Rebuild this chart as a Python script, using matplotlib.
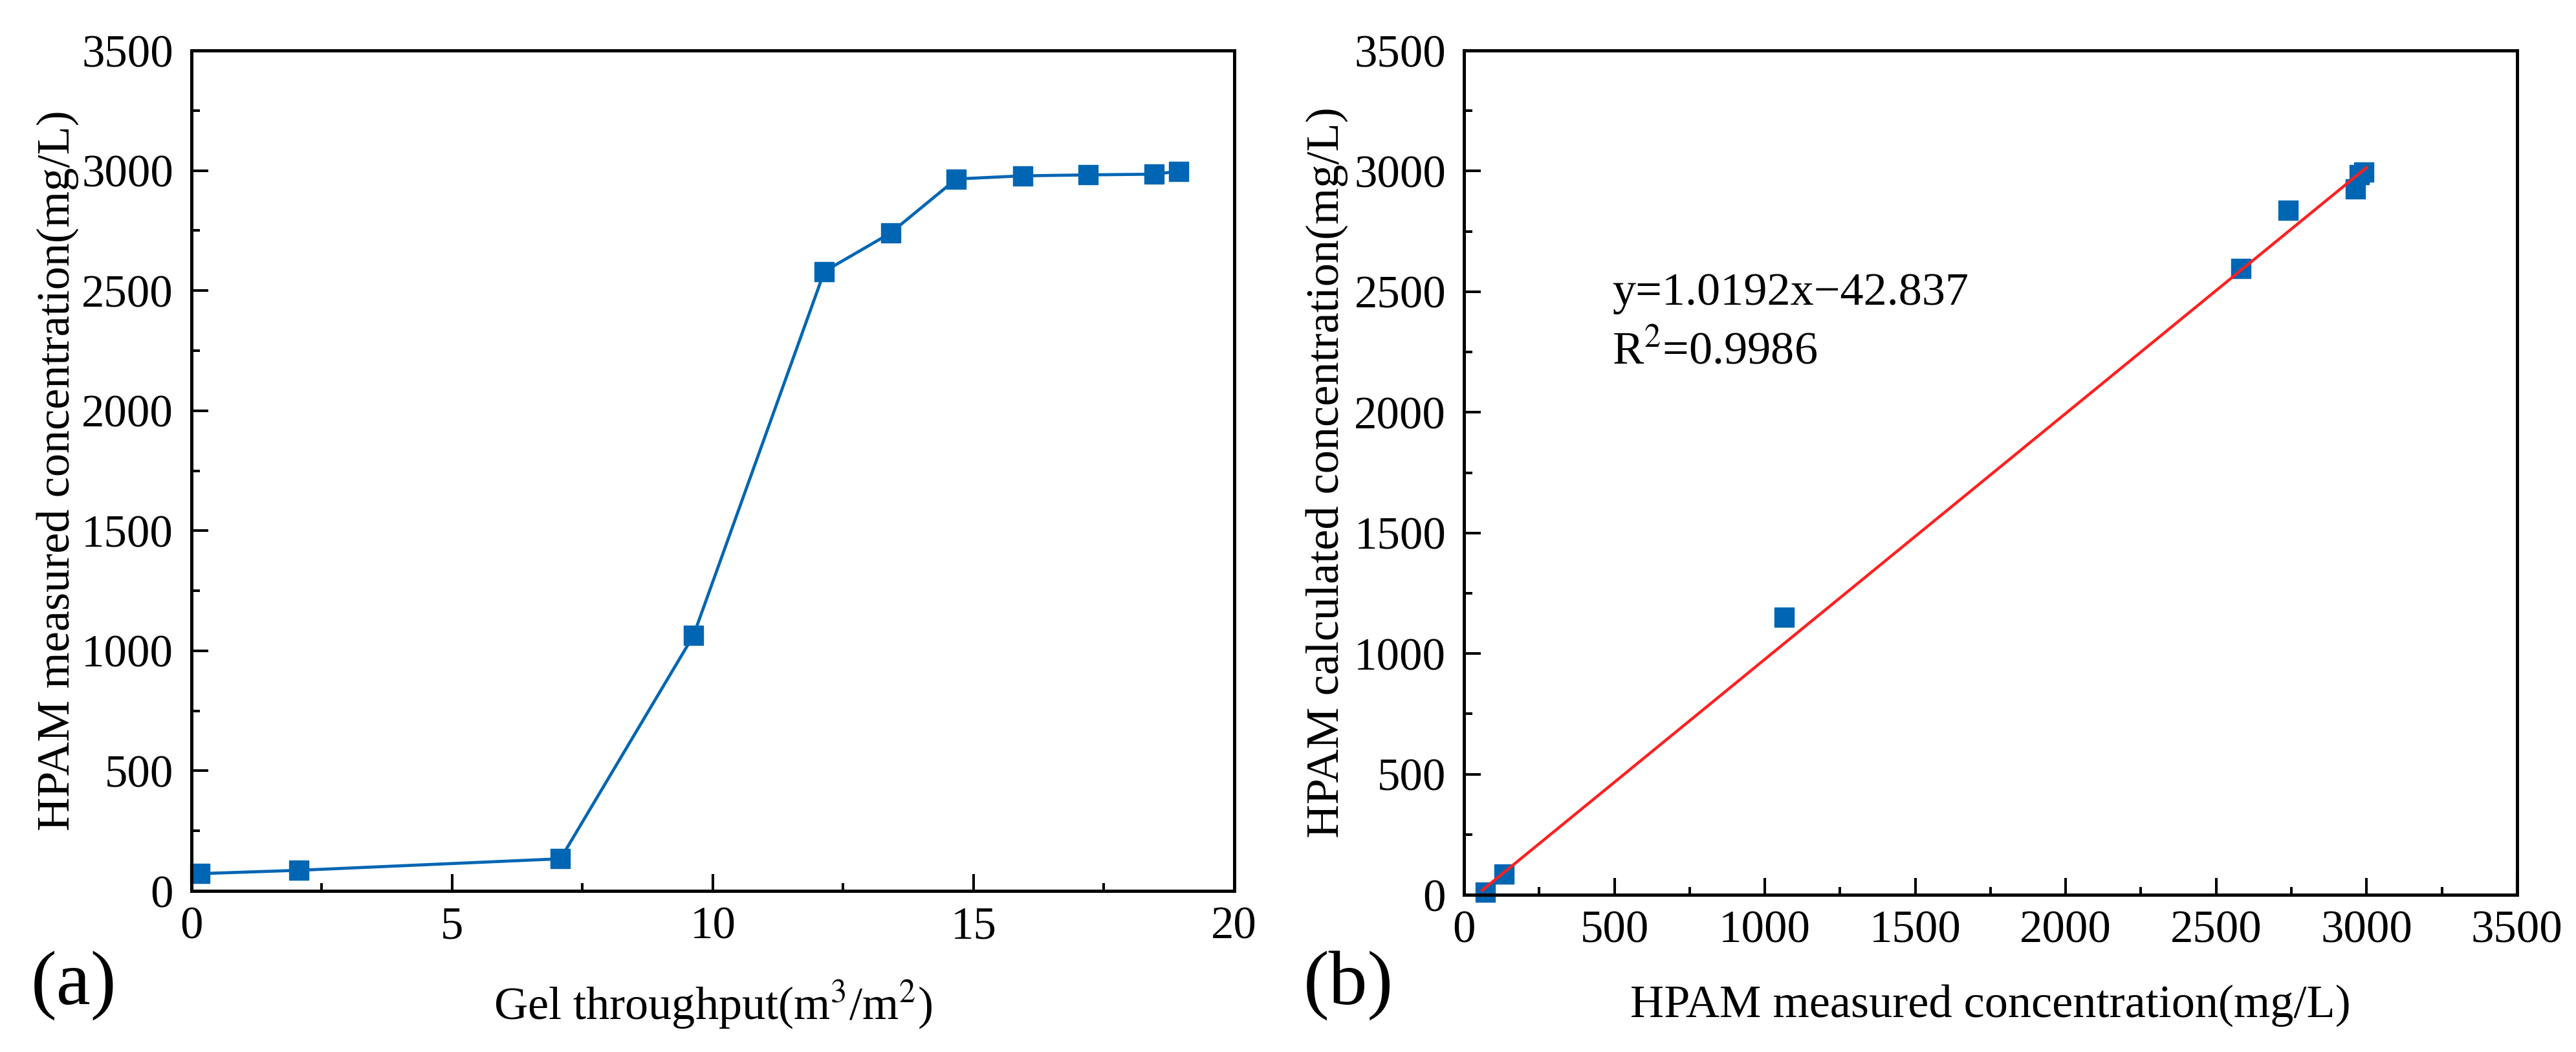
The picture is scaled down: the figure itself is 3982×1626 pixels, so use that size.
import matplotlib
matplotlib.use("Agg")
import matplotlib.pyplot as plt
import numpy as np
from matplotlib.ticker import MultipleLocator

# dados (a)
vazao_gel = [0.16, 2.06, 7.08, 9.63, 12.14, 13.41, 14.67, 15.94, 17.2, 18.47, 18.94]
conc_medida = [72, 86, 134, 1064, 2580, 2740, 2965, 2978, 2982, 2985, 2997]

# dados do gráfico (b)
medida_b = [72, 134, 1064, 2582, 2740, 2962, 2975, 2990]
calculada_b = [10, 86, 1150, 2595, 2838, 2925, 2985, 2995]
coef_a = 1.0192
coef_b = -42.837
x_ajuste = [60, 3000]

azul = "#0066b3"
plt.rcParams["font.family"] = ["Liberation Serif", "DejaVu Serif"]
plt.rcParams["mathtext.fontset"] = "stix"

fig = plt.figure(figsize=(39.82, 16.26), dpi=100)
ax1 = fig.add_axes([0.0743, 0.1531, 0.4048, 0.7989])
ax2 = fig.add_axes([0.5683, 0.1494, 0.4088, 0.8026])


def estilo(ax):
    for s in ax.spines.values():
        s.set_linewidth(3.6)
    ax.tick_params(which="both", direction="in", top=False, right=False, labelsize=51)
    ax.tick_params(which="major", length=19, width=2.9, pad=20)
    ax.tick_params(which="minor", length=9, width=2.9)
    ax.tick_params(axis="x", pad=17)


# grafico (a)
ax1.plot(vazao_gel, conc_medida, color=azul, lw=3.4, marker="s", ms=21, clip_on=False)
ax1.set_xlim(0, 20)
ax1.set_ylim(0, 3500)
ax1.xaxis.set_major_locator(MultipleLocator(5))
ax1.xaxis.set_minor_locator(MultipleLocator(2.5))
ax1.yaxis.set_major_locator(MultipleLocator(500))
ax1.yaxis.set_minor_locator(MultipleLocator(250))
estilo(ax1)
ax1.set_xlabel("Gel throughput(m$^3$/m$^2$)", fontsize=52, va="center")
ax1.set_ylabel("HPAM measured concentration(mg/L)", fontsize=52, va="center")
ax1.xaxis.set_label_coords(0.5, -0.136)
ax1.yaxis.set_label_coords(-0.128, 0.5)

# grafico (b)
x_linha = np.array(x_ajuste)
ax2.plot(x_linha, coef_a * x_linha + coef_b, color="#ff2020", lw=3.2, zorder=3)
ax2.scatter(medida_b, calculada_b, color=azul, marker="s", s=21 ** 2, zorder=2, clip_on=False)
ax2.set_xlim(0, 3500)
ax2.set_ylim(0, 3500)
for eixo in (ax2.xaxis, ax2.yaxis):
    eixo.set_major_locator(MultipleLocator(500))
    eixo.set_minor_locator(MultipleLocator(250))
estilo(ax2)
ax2.set_xlabel("HPAM measured concentration(mg/L)", fontsize=52, va="center")
ax2.set_ylabel("HPAM calculated concentration(mg/L)", fontsize=52, va="center")
ax2.xaxis.set_label_coords(0.5, -0.131)
ax2.yaxis.set_label_coords(-0.130, 0.5)
ax2.text(493, 2494, "y=1.0192x\u221242.837", fontsize=52, va="center", ha="left")
ax2.text(493, 2253, "R$^2$=0.9986", fontsize=52, va="center", ha="left")

fig.text(114 / 3982, 1 - 1523 / 1626, "(a)", fontsize=86, ha="center", va="center")
fig.text(2084 / 3982, 1 - 1523 / 1626, "(b)", fontsize=86, ha="center", va="center")

fig.savefig("out.png", dpi=100)
